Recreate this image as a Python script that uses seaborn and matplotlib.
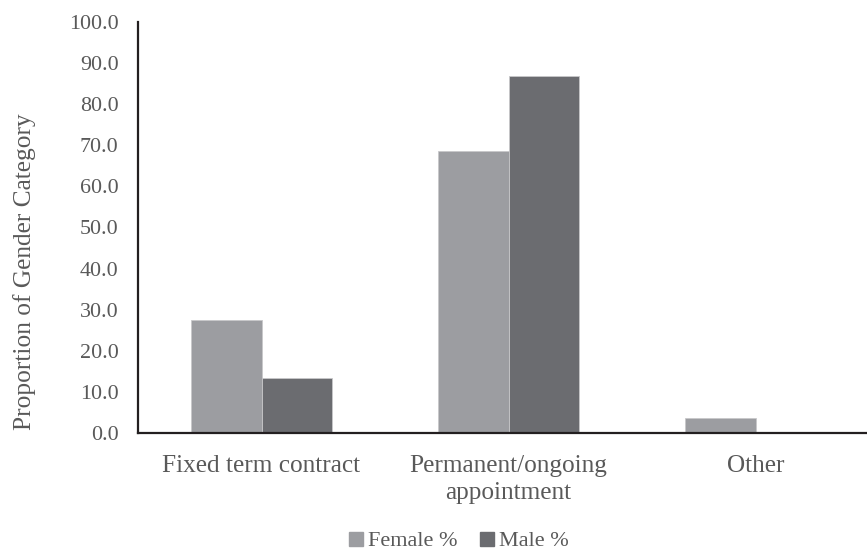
import matplotlib
matplotlib.use("Agg")
import matplotlib.pyplot as plt
import seaborn as sns
import pandas as pd
from matplotlib.lines import Line2D

categories = ["Fixed term contract", "Permanent/ongoing\nappointment", "Other"]
female_pct = [27.6, 68.7, 3.7]
male_pct = [13.5, 86.8, 0.0]
series = ["Female %", "Male %"]
yticks = [0, 10, 20, 30, 40, 50, 60, 70, 80, 90, 100]

df = pd.DataFrame({
    "category": categories * 2,
    "value": female_pct + male_pct,
    "series": [series[0]] * 3 + [series[1]] * 3,
})

sns.set_theme(style="white")
plt.rcParams["font.family"] = ["Liberation Serif", "DejaVu Serif"]

text_color = "#595959"
colors = {"Female %": "#9c9da1", "Male %": "#6b6c70"}

fig = plt.figure(figsize=(8.67, 5.51), dpi=100)
ax = fig.add_axes([138 / 867, 1 - 433 / 551, 1 - 138 / 867, (433 - 22) / 551])

sns.barplot(data=df, x="category", y="value", hue="series", palette=colors,
            width=0.57, gap=0, saturation=1, ax=ax, legend=False,
            edgecolor="#c8c8ca", linewidth=0.6)

ax.set_xlim(-0.5, 2.45)
ax.set_ylim(0, 100)
ax.set_yticks(yticks)
ax.set_yticklabels([f"{v:.1f}" for v in yticks])
ax.tick_params(axis="y", length=0, pad=14, labelsize=15.8, labelcolor=text_color)
ax.tick_params(axis="x", length=0, pad=16, labelsize=18.2, labelcolor=text_color)
for lbl in ax.get_xticklabels():
    lbl.set_linespacing(1.3)
ax.set_xlabel("")
ax.set_ylabel("Proportion of Gender Category", fontsize=18.3, color=text_color)
ax.yaxis.set_label_coords((36 - 138) / 729, (433 - 272) / 411)

for side in ["top", "right"]:
    ax.spines[side].set_visible(False)
for side in ["left", "bottom"]:
    ax.spines[side].set_color("#231f20")
    ax.spines[side].set_linewidth(1.6)

handles = [Line2D([], [], marker="s", linestyle="", markersize=10,
                  markerfacecolor=colors[s], markeredgecolor=colors[s]) for s in series]
fig.legend(handles, series, loc="center", bbox_to_anchor=(457 / 867, 1 - 541 / 551),
           ncol=2, frameon=False, fontsize=16, labelcolor=text_color,
           handletextpad=0.05, columnspacing=0.8, handlelength=1.0)

fig.savefig("out.png", dpi=100)
